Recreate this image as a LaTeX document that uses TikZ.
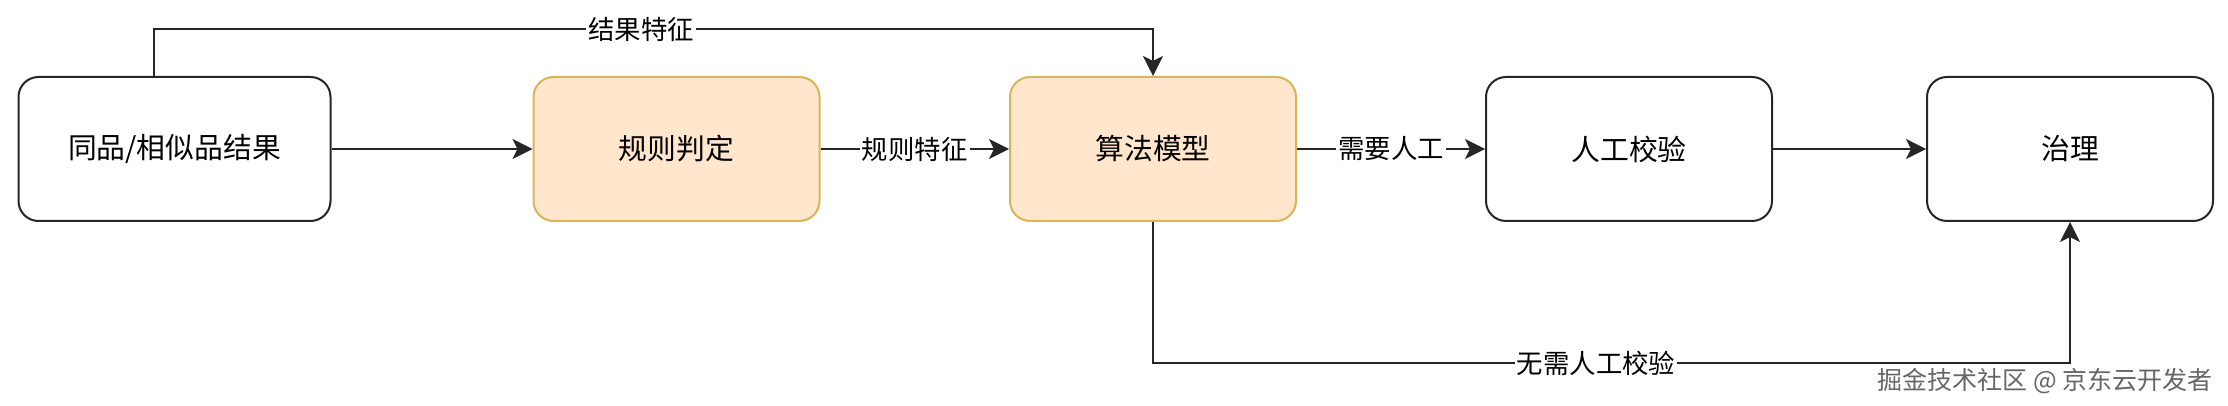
\documentclass[tikz,border=0pt]{standalone}
\usepackage{fontspec}
\newfontfamily\cjk{Noto Sans CJK SC}
\usetikzlibrary{arrows.meta}
\definecolor{ruleFill}{HTML}{FFE6CC}
\definecolor{ruleDraw}{HTML}{D6B656}

\begin{document}
\begin{tikzpicture}[x=0.5pt, y=-0.5pt,
    box/.style={draw=black!85, line width=1pt, rounded corners=10pt,
        minimum width=143pt, minimum height=72pt,
        font=\cjk\fontsize{14.4}{17}\selectfont},
    hot/.style={box, fill=ruleFill, draw=ruleDraw},
    lbl/.style={fill=white, inner sep=1pt, font=\cjk\fontsize{13.2}{16}\selectfont},
    flow/.style={line width=1pt, draw=black!85,
        -{Stealth[length=10pt, width=10pt, inset=2.5pt]}}]
    \useasboundingbox (0,0) rectangle (2228,406);

    \node[box, minimum width=156pt] (src) at (174.5,149) {同品/相似品结果};
    \node[hot] (rule) at (676.5,149) {规则判定};
    \node[hot] (algo) at (1153,149) {算法模型};
    \node[box] (check) at (1629,149) {人工校验};
    \node[box] (fix) at (2070,149) {治理};

    \coordinate (up) at (154,29);
    \coordinate (down) at (1153,363);

    \draw[flow] (src) -- (rule);
    \draw[flow] (rule) -- node[lbl] (l-rule) {规则特征} (algo);
    \draw[flow] (algo) -- node[lbl] (l-need) {需要人工} (check);
    \draw[flow] (check) -- (fix);
    \draw[flow] (src.north -| up) -- (up) -| (algo.north);
    \draw[flow] (algo.south) -- (down) -| (fix.south);
    % labels on the bent connectors
    \node[lbl] (l-res) at (641,29) {结果特征};
    \node[lbl] (l-skip) at (1596,363) {无需人工校验};

    \node[anchor=east, inner sep=0pt, text=black!60,
        font=\cjk\fontsize{12.5}{15}\selectfont] (mark) at (2213,381)
        {掘金技术社区 @ 京东云开发者};
\end{tikzpicture}
\end{document}
